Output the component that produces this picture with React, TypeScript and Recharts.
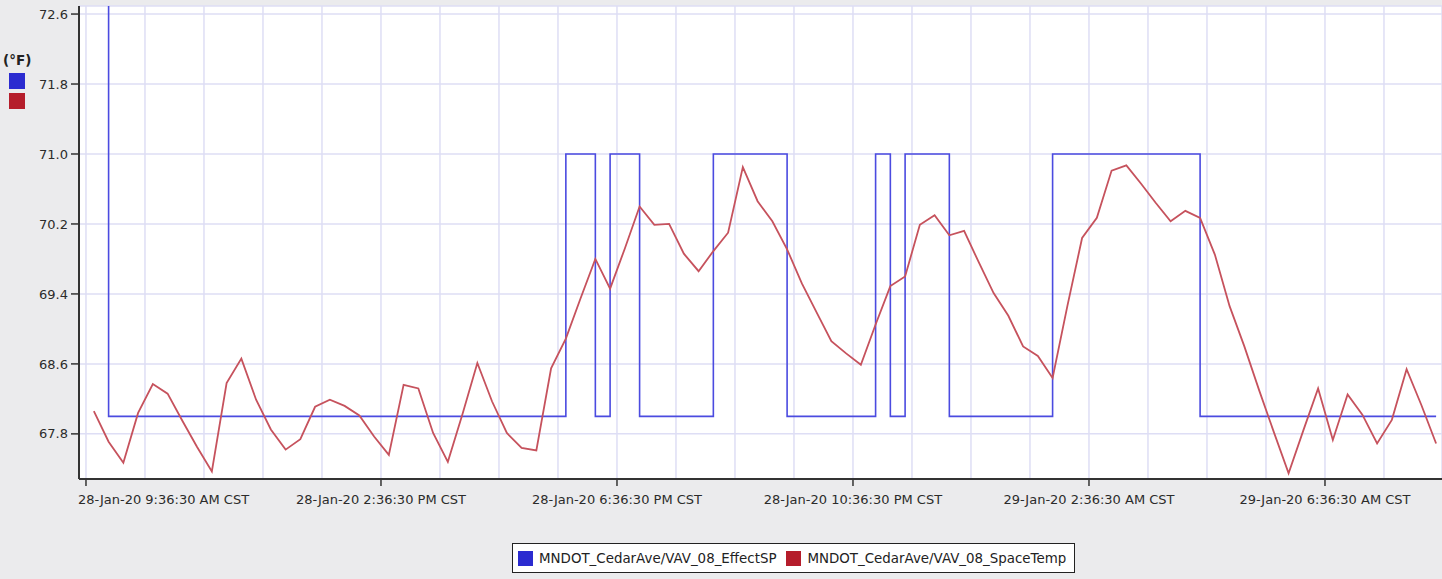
import { LineChart, Line, XAxis, YAxis, CartesianGrid } from "recharts";

const SETPOINT_NAME = "MNDOT_CedarAve/VAV_08_EffectSP";
const SPACE_TEMP_NAME = "MNDOT_CedarAve/VAV_08_SpaceTemp";
const UNIT = "(°F)";

// samples every 15 min, first at 9:44:30 AM CST; x = minutes after 28-Jan-20 9:36:30 AM CST
const FIRST_SAMPLE_MIN = 8;
const SAMPLE_STEP_MIN = 15;

const effectSP = [
  75,
  68, 68, 68, 68, 68, 68, 68, 68, 68, 68,
  68, 68, 68, 68, 68, 68, 68, 68, 68, 68,
  68, 68, 68, 68, 68, 68, 68, 68, 68, 68,
  68,
  71, 71,
  68,
  71, 71,
  68, 68, 68, 68, 68,
  71, 71, 71, 71, 71,
  68, 68, 68, 68, 68, 68,
  71,
  68,
  71, 71, 71,
  68, 68, 68, 68, 68, 68, 68,
  71, 71, 71, 71, 71, 71, 71, 71, 71, 71,
  68, 68, 68, 68, 68, 68, 68, 68, 68, 68, 68, 68, 68, 68, 68, 68, 68,
];

const spaceTemp = [
  68.06, 67.71, 67.47, 68.04, 68.37, 68.26, 67.95, 67.65, 67.37, 68.38,
  68.66, 68.19, 67.85, 67.62, 67.74, 68.11, 68.19, 68.12, 68.01, 67.77,
  67.56, 68.36, 68.32, 67.81, 67.48, 68.03, 68.61, 68.17, 67.81, 67.64,
  67.61, 68.55, 68.89, 69.35, 69.8, 69.46, 69.92, 70.4, 70.19, 70.2,
  69.86, 69.66, 69.89, 70.1, 70.85, 70.46, 70.23, 69.91, 69.52, 69.19,
  68.86, 68.72, 68.59, 69.05, 69.49, 69.6, 70.19, 70.3, 70.07, 70.12,
  69.76, 69.41, 69.15, 68.8, 68.69, 68.44, 69.26, 70.04, 70.27, 70.81,
  70.87, 70.66, 70.44, 70.23, 70.35, 70.27, 69.85, 69.26, 68.8, 68.3,
  67.82, 67.35, 67.84, 68.32, 67.73, 68.25, 68.02, 67.69, 67.96, 68.54,
  68.13, 67.69,
];

const tickMinutes = [0, 300, 540, 780, 1020, 1260];
const tickLabels = [
  "28-Jan-20 9:36:30 AM CST",
  "28-Jan-20 2:36:30 PM CST",
  "28-Jan-20 6:36:30 PM CST",
  "28-Jan-20 10:36:30 PM CST",
  "29-Jan-20 2:36:30 AM CST",
  "29-Jan-20 6:36:30 AM CST",
];
const yTicks = [67.8, 68.6, 69.4, 70.2, 71.0, 71.8, 72.6];

const FONT = "'DejaVu Sans', Verdana, sans-serif";
const BLUE = "#4b4be0";
const RED = "#c6525d";

const data = spaceTemp.map((v, i) => ({
  t: FIRST_SAMPLE_MIN + i * SAMPLE_STEP_MIN,
  sp: effectSP[i],
  temp: v,
}));

// one grid line per hour
const hourTicks = Array.from({ length: 23 }, (_, i) => i * 60);

function TimeTick(props: any) {
  const { x, y, payload } = props;
  const idx = tickMinutes.indexOf(payload.value);
  if (idx < 0) return null;
  const first = idx === 0;
  return (
    <g>
      <line x1={x} y1={y} x2={x} y2={y + 7} stroke="#333" strokeWidth={1.5} />
      <text
        x={first ? x - 8 : x}
        y={y + 25}
        textAnchor={first ? "start" : "middle"}
        fill="#2b2b2b"
        fontSize={13}
        fontFamily={FONT}
      >
        {tickLabels[idx]}
      </text>
    </g>
  );
}

export default function App() {
  return (
    <div
      style={{
        position: "absolute",
        left: 0,
        top: 0,
        width: 1442,
        height: 579,
        background: "#ebebed",
        fontFamily: FONT,
        overflow: "hidden",
      }}
    >
      <LineChart width={1442} height={579} data={data} margin={{ top: 6, right: 0, bottom: 0, left: 0 }}>
        <CartesianGrid fill="#ffffff" stroke="#dedef5" strokeWidth={1.5} />
        <XAxis
          dataKey="t"
          type="number"
          domain={[-7.1, 1379]}
          allowDataOverflow
          ticks={hourTicks}
          interval={0}
          height={100}
          tickSize={0}
          tickMargin={0}
          tickLine={false}
          tick={<TimeTick />}
          axisLine={{ stroke: "#333", strokeWidth: 2 }}
        />
        <YAxis
          type="number"
          domain={[67.284, 72.692]}
          allowDataOverflow
          ticks={yTicks}
          interval={0}
          width={79}
          tickSize={8}
          tickMargin={3}
          tickFormatter={(v: number) => v.toFixed(1)}
          tick={{ fill: "#2b2b2b", fontSize: 13, fontFamily: FONT }}
          tickLine={{ stroke: "#333", strokeWidth: 1.5 }}
          axisLine={{ stroke: "#333", strokeWidth: 2 }}
        />
        <Line
          type="stepAfter"
          dataKey="sp"
          name={SETPOINT_NAME}
          stroke={BLUE}
          strokeWidth={1.6}
          dot={false}
          isAnimationActive={false}
        />
        <Line
          type="linear"
          dataKey="temp"
          name={SPACE_TEMP_NAME}
          stroke={RED}
          strokeWidth={1.8}
          dot={false}
          isAnimationActive={false}
        />
      </LineChart>

      {/* unit label with series swatches, top left */}
      <div style={{ position: "absolute", left: 3, top: 52, fontSize: 13.5, fontWeight: "bold", color: "#222" }}>
        {UNIT}
      </div>
      <div style={{ position: "absolute", left: 9, top: 73, width: 16, height: 16, background: "#2b2bd0" }} />
      <div style={{ position: "absolute", left: 9, top: 93, width: 16, height: 16, background: "#b51d2b" }} />

      {/* legend box */}
      <div
        style={{
          position: "absolute",
          left: 512,
          top: 543,
          width: 561,
          height: 28,
          border: "1px solid #222",
          background: "#fff",
          display: "flex",
          alignItems: "center",
          fontSize: 13.4,
          color: "#222",
          whiteSpace: "nowrap",
        }}
      >
        <span style={{ width: 15, height: 15, background: "#2b2bd0", marginLeft: 5, marginRight: 6 }} />
        <span>{SETPOINT_NAME}</span>
        <span style={{ width: 15, height: 15, background: "#b51d2b", marginLeft: 10, marginRight: 6 }} />
        <span>{SPACE_TEMP_NAME}</span>
      </div>
    </div>
  );
}
